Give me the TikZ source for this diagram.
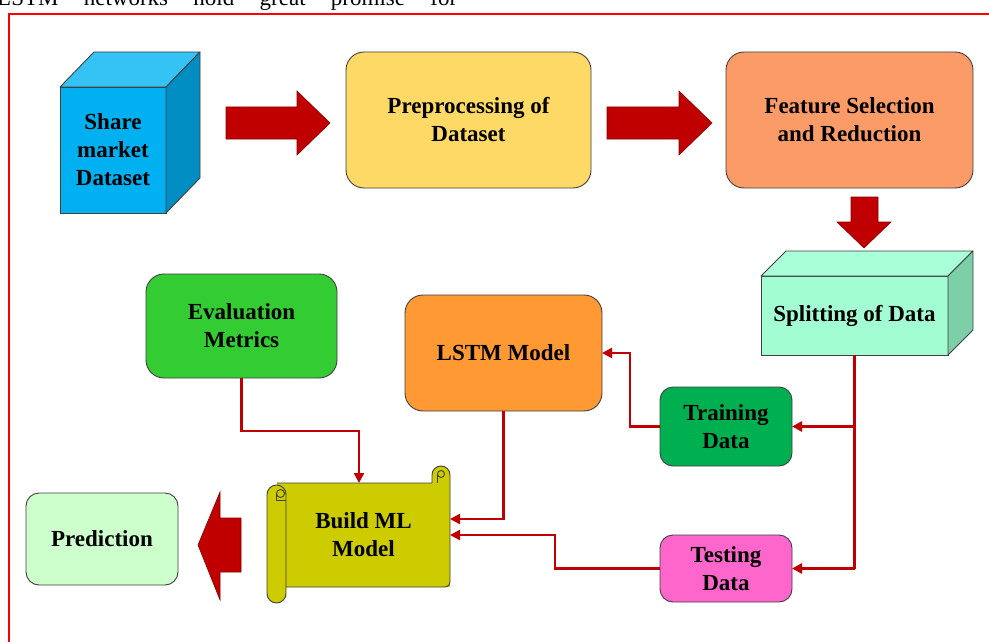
\documentclass[tikz,border=0pt]{standalone}
\usepackage{fontspec}
\setmainfont{Liberation Serif}
\usetikzlibrary{arrows.meta}
\definecolor{arrred}{HTML}{C00000}
\definecolor{arredge}{HTML}{8A0000}
\definecolor{cubefront}{HTML}{00B0F0}
\definecolor{cubetop}{HTML}{35C2F4}
\definecolor{cubeside}{HTML}{008EC2}
\definecolor{prepfill}{HTML}{FFD966}
\definecolor{featfill}{HTML}{FB9B68}
\definecolor{splitfront}{HTML}{A2FDD2}
\definecolor{splittop}{HTML}{A8FFD8}
\definecolor{splitside}{HTML}{7DCFA8}
\definecolor{evalfill}{HTML}{33CC33}
\definecolor{lstmfill}{HTML}{FF9933}
\definecolor{trainfill}{HTML}{00B050}
\definecolor{testfill}{HTML}{FF66CC}
\definecolor{scrollfill}{HTML}{CCCC00}
\definecolor{predfill}{HTML}{CCFFCC}
\definecolor{boxline}{HTML}{404040}
\newcommand\boxfont{\fontsize{23}{28}\selectfont\bfseries}
\tikzset{
  boxbase/.style={draw=boxline, line width=0.9pt, inner sep=0pt, outer sep=0pt, align=center, font=\boxfont, text=black},
  rbox/.style={boxbase, rounded corners=18pt},
  sbox/.style={boxbase, rounded corners=13pt},
  face/.style={draw=boxline, line width=0.9pt, line join=round},
  blockarrow/.style={fill=arrred, draw=arredge, line width=0.6pt, line join=miter},
  conn/.style={draw=arrred, line width=2.6pt, -{Triangle[length=10pt,width=10pt]}},
  plain/.style={draw=arrred, line width=2.6pt}
}
\begin{document}
\begin{tikzpicture}[x=1pt,y=-1pt]
\useasboundingbox (0,0) rectangle (989,642);
\clip (0,0) rectangle (989,642);
\fill[white] (0,0) rectangle (989,642);

% partial text line at the top
\node[anchor=base west, inner sep=0pt, font=\fontsize{23}{24}\selectfont] (toptext) at (-3,6)
  {\makebox[460pt][s]{LSTM networks hold great promise for}};

% red frame
\draw[red, line width=2pt] (9,14) rectangle (1010,700);

% Share market Dataset cube
\node[boxbase, fill=cubefront, minimum width=106pt, minimum height=126pt] (share) at (113,150) {Share\\market\\Dataset};
\filldraw[face, fill=cubetop] (share.north west) -- ++(34,-35) -- ++(106,0) -- (share.north east) -- cycle;
\filldraw[face, fill=cubeside] (share.north east) -- ++(34,-35) -- ++(0,126) -- (share.south east) -- cycle;

% Preprocessing
\node[rbox, fill=prepfill, minimum width=245pt, minimum height=136pt] (prep) at (468.5,120) {Preprocessing of\\Dataset};

% Feature selection
\node[rbox, fill=featfill, minimum width=247pt, minimum height=136pt] (feat) at (849.5,120) {Feature Selection\\and Reduction};

% Splitting cube
\node[boxbase, fill=splitfront, minimum width=187pt, minimum height=79pt] (split) at (854.5,315.5) {Splitting of Data};
\filldraw[face, fill=splittop] (split.north west) -- ++(25,-25) -- ++(187,0) -- (split.north east) -- cycle;
\filldraw[face, fill=splitside] (split.north east) -- ++(25,-25) -- ++(0,79) -- (split.south east) -- cycle;

% Evaluation Metrics
\node[rbox, fill=evalfill, minimum width=191pt, minimum height=104pt] (eval) at (241.5,326) {Evaluation\\Metrics};

% LSTM Model
\node[rbox, fill=lstmfill, minimum width=197pt, minimum height=116pt] (lstm) at (503.5,353) {LSTM Model};

% Training / Testing
\node[sbox, fill=trainfill, minimum width=132pt, minimum height=79pt] (train) at (726,426.5) {Training\\Data};
\node[sbox, fill=testfill, minimum width=132pt, minimum height=67pt] (test) at (726,568.5) {Testing\\Data};

% Prediction
\node[sbox, fill=predfill, minimum width=152pt, minimum height=92pt] (pred) at (102,539) {Prediction};

% Build ML Model scroll
\fill[scrollfill] (277,483) rectangle (450,587);
\filldraw[face, fill=scrollfill] (277,483) -- (432,483) -- (432,475)
  .. controls (432,470) and (436,466) .. (441,466)
  .. controls (446,466) and (450,470) .. (450,475)
  -- (450,581) .. controls (450,585) and (448,587) .. (444,587) -- (277,587);
\draw[face] (441,474) circle[radius=3.5pt];
\draw[face] (437.5,474) -- (437.5,483);
\filldraw[face, fill=scrollfill, rounded corners=9.5pt] (267,485) rectangle (286,603);
\draw[face] (280.5,493.5) circle[radius=4pt];
\draw[face] (276.5,493.5) -- (276.5,500) -- (286,500);
\node[boxbase, draw=none, minimum width=173pt, minimum height=104pt] (build) at (363.5,535) {Build ML\\Model};

% block arrows
\filldraw[blockarrow] (226,107) -- (297,107) -- (297,91) -- (330,123) -- (297,155) -- (297,139) -- (226,139) -- cycle;
\filldraw[blockarrow] (607,107) -- (679,107) -- (679,91) -- (712,123) -- (679,155) -- (679,139) -- (607,139) -- cycle;
\filldraw[blockarrow] (851,197) -- (878,197) -- (878,222) -- (891,222) -- (864,248) -- (837,222) -- (851,222) -- cycle;
\filldraw[blockarrow] (241,518) -- (220,518) -- (220,492) -- (198,545) -- (220,600) -- (220,572) -- (241,572) -- cycle;

% connectors
\draw[plain] (split.south) -- (split.south |- test.east);
\draw[conn] (split.south |- train.east) -- (train.east);
\draw[conn] (split.south |- test.east) -- (test.east);
\draw[conn] (train.west) -- ++(-30,0) |- (lstm.east);
\draw[conn] (test.west) -- ++(-105,0) |- (build.east);
\draw[conn] (lstm.south) |- ([yshift=16pt]build.east);
\draw[conn] (eval.south) -- ++(0,53) -| ([xshift=-4.5pt]build.north);
\end{tikzpicture}
\end{document}
